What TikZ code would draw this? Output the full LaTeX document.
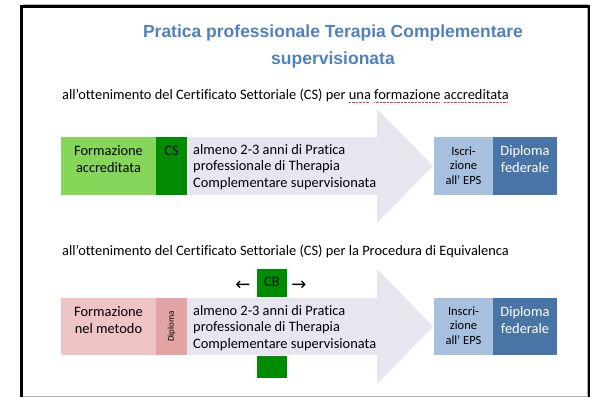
\documentclass[tikz,border=0pt]{standalone}
\usepackage{fontspec}
\setmainfont{Carlito}[Ligatures=NoCommon]
\newfontfamily\titlefont{Liberation Sans}
\newfontfamily\symfont{DejaVu Sans}
\definecolor{spell}{RGB}{225,60,60}
\newsavebox\ulbox
\newcommand\redul[1]{\sbox\ulbox{#1}\rlap{\color{spell}\raisebox{-2.8pt}{\hbox to\wd\ulbox{\leaders\hbox{\rule{0.8pt}{0.8pt}\kern0.6pt}\hfill}}}\usebox\ulbox}
\definecolor{titleblue}{RGB}{79,129,189}
\definecolor{lgreen}{RGB}{134,214,90}
\definecolor{dgreen}{RGB}{0,140,0}
\definecolor{lav}{RGB}{231,229,240}
\definecolor{lblue}{RGB}{167,192,222}
\definecolor{dblue}{RGB}{72,117,166}
\definecolor{lpink}{RGB}{238,196,196}
\definecolor{dpink}{RGB}{226,164,164}
\tikzset{
  box/.style={draw=none, inner sep=0pt, anchor=north west},
  txt/.style={inner sep=0pt, font=\fontsize{14.4}{16.3}\selectfont, align=center},
  small/.style={inner sep=0pt, font=\fontsize{12.5}{14.5}\selectfont, align=center},
  symb/.style={inner sep=0pt, font=\symfont\fontsize{18}{18}\selectfont},
  bigarrow/.style={fill=lav, draw=none}
}
\begin{document}
\begin{tikzpicture}[x=1pt,y=-1pt]
\useasboundingbox (0,0) rectangle (590,397);
% frame
\draw[gray!60, line width=0.6pt] (23,4) -- (587,4) -- (587,396) -- (23,396);
\draw[black, line width=2.6pt] (21.3,397) -- (21.3,6.3) -- (590,6.3);
\draw[black, line width=1.6pt] (589.2,6.3) -- (589.2,397);
% title
\node[inner sep=0pt, text=titleblue, font=\titlefont\bfseries\fontsize{17.5}{27}\selectfont, align=center] (title) at (333,46) {Pratica professionale Terapia Complementare\\supervisionata};
% subtitle 1
\node[inner sep=0pt, anchor=west, font=\fontsize{14.4}{16}\selectfont] (sub1) at (62,96) {all'ottenimento del Certificato Settoriale (CS) per \redul{una} \redul{formazione} \redul{accreditata}};
% row 1
\path[bigarrow] (187,137) -- (377,137) -- (377,109) -- (433,166) -- (377,223) -- (377,195) -- (187,195) -- cycle;
\node[box, fill=lgreen, minimum width=95pt, minimum height=58pt] (fa) at (61,137) {};
\node[box, fill=dgreen, minimum width=31pt, minimum height=58pt] (cs) at (156,137) {};
\node[txt] (fat) at (108.5,159) {Formazione\\accreditata};
\node[txt] (cst) at (171.5,151) {CS};
\node[txt, anchor=west, align=left] (pr1) at (193,167) {almeno 2-3 anni di Pratica\\professionale di Therapia\\Complementare supervisionata};
\node[box, fill=lblue, minimum width=59pt, minimum height=58pt] (eps1) at (434,137) {};
\node[box, fill=dblue, minimum width=64pt, minimum height=58pt] (dip1) at (493,137) {};
\node[small] (eps1t) at (463.5,165.5) {Iscri-\\zione\\all' EPS};
\node[txt, text=white] (dip1t) at (525,159) {Diploma\\federale};
% subtitle 2
\node[inner sep=0pt, anchor=west, font=\fontsize{14.4}{16}\selectfont] (sub2) at (62,251) {all’ottenimento del Certificato Settoriale (CS) per la Procedura di Equivalenca};
% row 2
\path[bigarrow] (187,298) -- (377,298) -- (377,269) -- (433,326.5) -- (377,384) -- (377,355) -- (187,355) -- cycle;
\node[box, fill=lpink, minimum width=95pt, minimum height=57pt] (fm) at (61,298) {};
\node[box, fill=dpink, minimum width=31pt, minimum height=57pt] (dp) at (156,298) {};
\node[txt] (fmt) at (108.5,320) {Formazione\\nel metodo};
\node[inner sep=0pt, rotate=90, font=\fontsize{9}{10}\selectfont] (dpt) at (171.5,326.5) {Diploma};
\node[txt, anchor=west, align=left] (pr2) at (193,328) {almeno 2-3 anni di Pratica\\professionale di Therapia\\Complementare supervisionata};
\node[box, fill=dgreen, minimum width=30pt, minimum height=28pt] (cb) at (257,269) {};
\node[txt] (cbt) at (272,282) {CB};
\node[symb] (la) at (243,286) {←};
\node[symb] (ra) at (299,286) {→};
\node[box, fill=dgreen, minimum width=30pt, minimum height=22pt] (cb2) at (257,356) {};
\node[box, fill=lblue, minimum width=59pt, minimum height=57pt] (eps2) at (434,298) {};
\node[box, fill=dblue, minimum width=64pt, minimum height=57pt] (dip2) at (493,298) {};
\node[small] (eps2t) at (463.5,325.5) {Inscri-\\zione\\all' EPS};
\node[txt, text=white] (dip2t) at (525,320) {Diploma\\federale};
\end{tikzpicture}
\end{document}
